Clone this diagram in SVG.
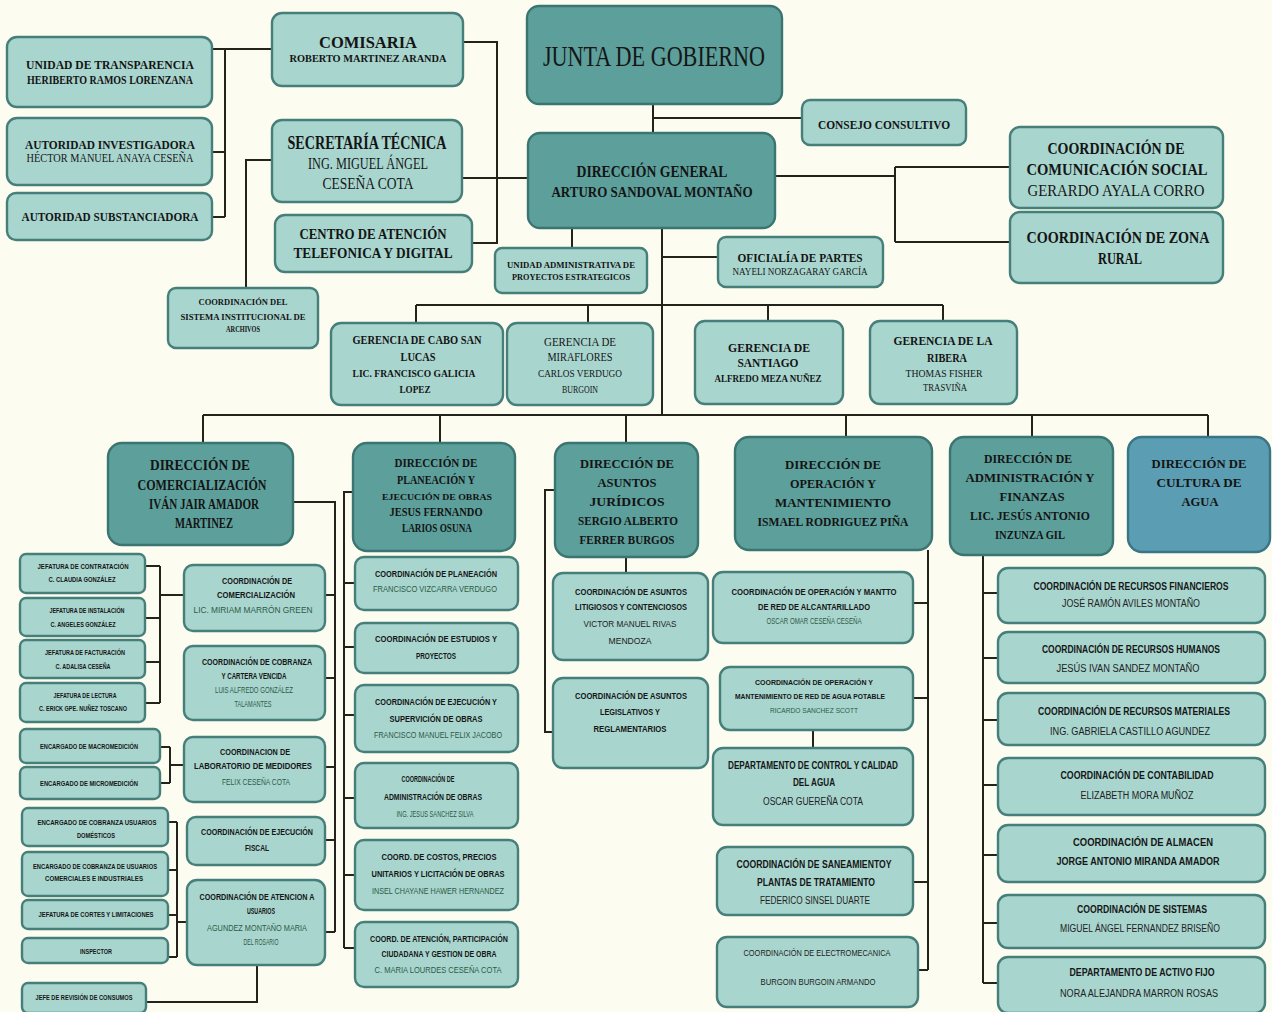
<svg xmlns="http://www.w3.org/2000/svg" width="1272" height="1012" viewBox="0 0 1272 1012">
<style>
.bl{fill:#a8d5ce;stroke:#467f79;stroke-width:2.4}
.bd{fill:#5c9f9b;stroke:#3a7571;stroke-width:2.4}
.bc{fill:#5b9db2;stroke:#3a7584;stroke-width:2.4}
.cn{stroke:#23231b;stroke-width:2;fill:none}
.sb{font-family:"Liberation Serif","Times New Roman",serif;font-weight:700;fill:#141414;text-anchor:middle}
.sr{font-family:"Liberation Serif","Times New Roman",serif;font-weight:400;fill:#161616;text-anchor:middle}
.ab{font-family:"Liberation Sans",Arial,sans-serif;font-weight:700;fill:#161616;text-anchor:middle}
.ag{font-family:"Liberation Sans",Arial,sans-serif;font-weight:400;fill:#2e5a45;text-anchor:middle}
.ak{font-family:"Liberation Sans",Arial,sans-serif;font-weight:400;fill:#222;text-anchor:middle}
</style>
<rect x="0" y="0" width="1272" height="1012" fill="#fdfcf1"/>

<g id="connectors">
<path class="cn" d="M653 104V133M653 118H802"/>
<path class="cn" d="M775 176H895M895 167V242M895 167H1010M895 242H1010"/>
<path class="cn" d="M462 178H528M463 42H497V243H472"/>
<path class="cn" d="M212 49H272M225 49V217M212 152H225M212 217H225"/>
<path class="cn" d="M272 160H246V288"/>
<path class="cn" d="M572 228V248M662 228V415M662 257H718"/>
<path class="cn" d="M416 305H943M416 305V323M588 305V323M768 305V321M943 305V321"/>
<path class="cn" d="M203 415H1208M203 415V443M440 415V443M626 415V443M846 415V437M1032 415V437M1208 415V437"/>
<path class="cn" d="M293 502H335V932M325 595H335M325 678H335M325 767H335M325 840H335M325 932H335"/>
<path class="cn" d="M145 566H160M145 618H160M145 662H160M145 703H160M160 566V703M160 595H184"/>
<path class="cn" d="M160 747H170M160 783H170M170 747V783M170 765H184"/>
<path class="cn" d="M168 822H177M168 870H177M168 915H177M168 957H177M177 822V957M177 922H187"/>
<path class="cn" d="M257 965V1002H146"/>
<path class="cn" d="M353 492H344V948M344 583H355M344 647H355M344 715H355M344 798H355M344 875H355M344 948H355"/>
<path class="cn" d="M555 490H545V732H553M626 557V573"/>
<path class="cn" d="M928 550V970M913 603H928M913 698H928M913 882H928M918 970H928M813 730V748"/>
<path class="cn" d="M983 555V983M983 593H998M983 658H998M983 720H998M983 785H998M983 855H998M983 923H998M983 983H998"/>
</g>

<g id="junta"><rect class="bd" x="527" y="6" width="255" height="98" rx="12" fill="#58a19c"/>
<text class="sr" x="654" y="66" font-size="30" textLength="222" lengthAdjust="spacingAndGlyphs">JUNTA DE GOBIERNO</text></g>

<g id="consejo"><rect class="bl" x="802" y="100" width="164" height="45" rx="8"/>
<text class="sb" x="884" y="129" font-size="13" textLength="132" lengthAdjust="spacingAndGlyphs">CONSEJO CONSULTIVO</text></g>

<g id="direccion-general"><rect class="bd" x="528" y="133" width="247" height="95" rx="12"/>
<text class="sb" x="652" y="177" font-size="16" textLength="151" lengthAdjust="spacingAndGlyphs">DIRECCIÓN GENERAL</text>
<text class="sb" x="652" y="197" font-size="15" textLength="201" lengthAdjust="spacingAndGlyphs">ARTURO SANDOVAL MONTAÑO</text></g>

<g id="comisaria"><rect class="bl" x="272" y="13" width="191" height="73" rx="10"/>
<text class="sb" x="368" y="48" font-size="16" textLength="98" lengthAdjust="spacingAndGlyphs">COMISARIA</text>
<text class="sb" x="368" y="62" font-size="11" textLength="157" lengthAdjust="spacingAndGlyphs">ROBERTO MARTINEZ ARANDA</text></g>

<g id="transparencia"><rect class="bl" x="7" y="37" width="205" height="70" rx="10"/>
<text class="sb" x="110" y="69" font-size="13" textLength="168" lengthAdjust="spacingAndGlyphs">UNIDAD DE TRANSPARENCIA</text>
<text class="sb" x="110" y="84" font-size="11.5" textLength="166" lengthAdjust="spacingAndGlyphs">HERIBERTO RAMOS LORENZANA</text></g>

<g id="investigadora"><rect class="bl" x="7" y="118" width="205" height="67" rx="10"/>
<text class="sb" x="110" y="149" font-size="13" textLength="170" lengthAdjust="spacingAndGlyphs">AUTORIDAD INVESTIGADORA</text>
<text class="sr" x="110" y="162" font-size="12" textLength="167" lengthAdjust="spacingAndGlyphs">HÉCTOR MANUEL ANAYA CESEÑA</text></g>

<g id="substanciadora"><rect class="bl" x="7" y="193" width="205" height="47" rx="9"/>
<text class="sb" x="110" y="221" font-size="13" textLength="177" lengthAdjust="spacingAndGlyphs">AUTORIDAD SUBSTANCIADORA</text></g>

<g id="secretaria"><rect class="bl" x="272" y="120" width="190" height="82" rx="10"/>
<text class="sb" x="367" y="149" font-size="18" textLength="159" lengthAdjust="spacingAndGlyphs">SECRETARÍA TÉCNICA</text>
<text class="sr" x="368" y="169" font-size="17" textLength="120" lengthAdjust="spacingAndGlyphs">ING. MIGUEL ÁNGEL</text>
<text class="sr" x="368" y="189" font-size="17" textLength="91" lengthAdjust="spacingAndGlyphs">CESEÑA COTA</text></g>

<g id="centro-atencion"><rect class="bl" x="275" y="215" width="197" height="57" rx="10"/>
<text class="sb" x="373" y="239" font-size="15" textLength="147" lengthAdjust="spacingAndGlyphs">CENTRO DE ATENCIÓN</text>
<text class="sb" x="373" y="258" font-size="15" textLength="159" lengthAdjust="spacingAndGlyphs">TELEFONICA Y DIGITAL</text></g>

<g id="archivos"><rect class="bl" x="168" y="288" width="150" height="60" rx="8"/>
<text class="sb" x="243" y="305" font-size="8" textLength="89" lengthAdjust="spacingAndGlyphs">COORDINACIÓN DEL</text>
<text class="sb" x="243" y="320" font-size="8" textLength="125" lengthAdjust="spacingAndGlyphs">SISTEMA INSTITUCIONAL DE</text>
<text class="sb" x="243" y="332" font-size="8" textLength="34" lengthAdjust="spacingAndGlyphs">ARCHIVOS</text></g>

<g id="unidad-administrativa"><rect class="bl" x="495" y="248" width="152" height="45" rx="7"/>
<text class="sb" x="571" y="268" font-size="8.5" textLength="128" lengthAdjust="spacingAndGlyphs">UNIDAD ADMINISTRATIVA DE</text>
<text class="sb" x="571" y="280" font-size="8.5" textLength="118" lengthAdjust="spacingAndGlyphs">PROYECTOS ESTRATEGICOS</text></g>

<g id="oficialia"><rect class="bl" x="718" y="237" width="165" height="50" rx="8"/>
<text class="sb" x="800" y="262" font-size="12.5" textLength="125" lengthAdjust="spacingAndGlyphs">OFICIALÍA DE PARTES</text>
<text class="sr" x="800" y="275" font-size="10.5" textLength="135" lengthAdjust="spacingAndGlyphs">NAYELI NORZAGARAY GARCÍA</text></g>

<g id="comunicacion-social"><rect class="bl" x="1010" y="127" width="213" height="81" rx="10"/>
<text class="sb" x="1116" y="154" font-size="16" textLength="137" lengthAdjust="spacingAndGlyphs">COORDINACIÓN DE</text>
<text class="sb" x="1117" y="175" font-size="16" textLength="181" lengthAdjust="spacingAndGlyphs">COMUNICACIÓN SOCIAL</text>
<text class="sr" x="1116" y="196" font-size="16" textLength="177" lengthAdjust="spacingAndGlyphs">GERARDO AYALA CORRO</text></g>

<g id="zona-rural"><rect class="bl" x="1010" y="212" width="213" height="71" rx="10"/>
<text class="sb" x="1118" y="243" font-size="16" textLength="183" lengthAdjust="spacingAndGlyphs">COORDINACIÓN DE ZONA</text>
<text class="sb" x="1120" y="264" font-size="16" textLength="44" lengthAdjust="spacingAndGlyphs">RURAL</text></g>

<g id="gerencia-cabo"><rect class="bl" x="331" y="323" width="172" height="82" rx="10"/>
<text class="sb" x="417" y="344" font-size="12" textLength="129" lengthAdjust="spacingAndGlyphs">GERENCIA DE CABO SAN</text>
<text class="sb" x="418" y="361" font-size="12" textLength="35" lengthAdjust="spacingAndGlyphs">LUCAS</text>
<text class="sb" x="414" y="377" font-size="11" textLength="123" lengthAdjust="spacingAndGlyphs">LIC. FRANCISCO GALICIA</text>
<text class="sb" x="415" y="393" font-size="11" textLength="31" lengthAdjust="spacingAndGlyphs">LOPEZ</text></g>

<g id="gerencia-miraflores"><rect class="bl" x="507" y="323" width="146" height="82" rx="10"/>
<text class="sr" x="580" y="346" font-size="12" textLength="72" lengthAdjust="spacingAndGlyphs">GERENCIA DE</text>
<text class="sr" x="580" y="361" font-size="12" textLength="65" lengthAdjust="spacingAndGlyphs">MIRAFLORES</text>
<text class="sr" x="580" y="377" font-size="10.5" textLength="84" lengthAdjust="spacingAndGlyphs">CARLOS VERDUGO</text>
<text class="sr" x="580" y="393" font-size="10.5" textLength="36" lengthAdjust="spacingAndGlyphs">BURGOIN</text></g>

<g id="gerencia-santiago"><rect class="bl" x="695" y="321" width="148" height="83" rx="10"/>
<text class="sb" x="769" y="352" font-size="12.5" textLength="82" lengthAdjust="spacingAndGlyphs">GERENCIA DE</text>
<text class="sb" x="768" y="367" font-size="12.5" textLength="61" lengthAdjust="spacingAndGlyphs">SANTIAGO</text>
<text class="sb" x="768" y="382" font-size="10" textLength="107" lengthAdjust="spacingAndGlyphs">ALFREDO MEZA NUÑEZ</text></g>

<g id="gerencia-ribera"><rect class="bl" x="870" y="321" width="147" height="83" rx="10"/>
<text class="sb" x="943" y="345" font-size="12.5" textLength="99" lengthAdjust="spacingAndGlyphs">GERENCIA DE LA</text>
<text class="sb" x="947" y="362" font-size="12.5" textLength="40" lengthAdjust="spacingAndGlyphs">RIBERA</text>
<text class="sr" x="944" y="377" font-size="10" textLength="77" lengthAdjust="spacingAndGlyphs">THOMAS FISHER</text>
<text class="sr" x="945" y="391" font-size="10" textLength="44" lengthAdjust="spacingAndGlyphs">TRASVIÑA</text></g>

<g id="dir-comercializacion"><rect class="bd" x="108" y="443" width="185" height="102" rx="14"/>
<text class="sb" x="200" y="470" font-size="14" textLength="100" lengthAdjust="spacingAndGlyphs">DIRECCIÓN DE</text>
<text class="sb" x="202" y="490" font-size="14" textLength="129" lengthAdjust="spacingAndGlyphs">COMERCIALIZACIÓN</text>
<text class="sb" x="204" y="509" font-size="14" textLength="110" lengthAdjust="spacingAndGlyphs">IVÁN JAIR AMADOR</text>
<text class="sb" x="204" y="528" font-size="14" textLength="58" lengthAdjust="spacingAndGlyphs">MARTINEZ</text></g>

<g id="dir-planeacion"><rect class="bd" x="353" y="443" width="162" height="108" rx="14"/>
<text class="sb" x="436" y="467" font-size="12" textLength="83" lengthAdjust="spacingAndGlyphs">DIRECCIÓN DE</text>
<text class="sb" x="436" y="484" font-size="12" textLength="78" lengthAdjust="spacingAndGlyphs">PLANEACIÓN Y</text>
<text class="sb" x="437" y="500" font-size="9" textLength="110" lengthAdjust="spacingAndGlyphs">EJECUCIÓN DE OBRAS</text>
<text class="sb" x="436" y="516" font-size="12" textLength="93" lengthAdjust="spacingAndGlyphs">JESUS FERNANDO</text>
<text class="sb" x="437" y="532" font-size="12" textLength="70" lengthAdjust="spacingAndGlyphs">LARIOS OSUNA</text></g>

<g id="dir-juridicos"><rect class="bd" x="555" y="443" width="143" height="114" rx="14"/>
<text class="sb" x="627" y="468" font-size="13" textLength="94" lengthAdjust="spacingAndGlyphs">DIRECCIÓN DE</text>
<text class="sb" x="627" y="487" font-size="13" textLength="59" lengthAdjust="spacingAndGlyphs">ASUNTOS</text>
<text class="sb" x="627" y="506" font-size="13" textLength="75" lengthAdjust="spacingAndGlyphs">JURÍDICOS</text>
<text class="sb" x="628" y="525" font-size="13" textLength="100" lengthAdjust="spacingAndGlyphs">SERGIO ALBERTO</text>
<text class="sb" x="627" y="544" font-size="13" textLength="95" lengthAdjust="spacingAndGlyphs">FERRER BURGOS</text></g>

<g id="dir-operacion"><rect class="bd" x="735" y="437" width="197" height="113" rx="14"/>
<text class="sb" x="833" y="469" font-size="13" textLength="96" lengthAdjust="spacingAndGlyphs">DIRECCIÓN DE</text>
<text class="sb" x="833" y="488" font-size="13" textLength="86" lengthAdjust="spacingAndGlyphs">OPERACIÓN Y</text>
<text class="sb" x="833" y="507" font-size="13" textLength="116" lengthAdjust="spacingAndGlyphs">MANTENIMIENTO</text>
<text class="sb" x="833" y="526" font-size="13" textLength="151" lengthAdjust="spacingAndGlyphs">ISMAEL RODRIGUEZ PIÑA</text></g>

<g id="dir-administracion"><rect class="bd" x="950" y="437" width="163" height="118" rx="14"/>
<text class="sb" x="1028" y="463" font-size="13" textLength="88" lengthAdjust="spacingAndGlyphs">DIRECCIÓN DE</text>
<text class="sb" x="1030" y="482" font-size="13" textLength="129" lengthAdjust="spacingAndGlyphs">ADMINISTRACIÓN Y</text>
<text class="sb" x="1032" y="501" font-size="13" textLength="65" lengthAdjust="spacingAndGlyphs">FINANZAS</text>
<text class="sb" x="1030" y="520" font-size="13" textLength="120" lengthAdjust="spacingAndGlyphs">LIC. JESÚS ANTONIO</text>
<text class="sb" x="1030" y="539" font-size="13" textLength="70" lengthAdjust="spacingAndGlyphs">INZUNZA GIL</text></g>

<g id="dir-cultura"><rect class="bc" x="1128" y="437" width="142" height="115" rx="14"/>
<text class="sb" x="1199" y="468" font-size="13" textLength="95" lengthAdjust="spacingAndGlyphs">DIRECCIÓN DE</text>
<text class="sb" x="1199" y="487" font-size="13" textLength="85" lengthAdjust="spacingAndGlyphs">CULTURA DE</text>
<text class="sb" x="1200" y="506" font-size="13" textLength="37" lengthAdjust="spacingAndGlyphs">AGUA</text></g>

<g id="jef-contratacion"><rect class="bl" x="20" y="554" width="125" height="39" rx="6"/>
<text class="ab" x="83" y="569" font-size="7.5" textLength="91" lengthAdjust="spacingAndGlyphs">JEFATURA DE CONTRATACIÓN</text>
<text class="ab" x="82" y="582" font-size="7.5" textLength="67" lengthAdjust="spacingAndGlyphs">C. CLAUDIA GONZÁLEZ</text></g>
<g id="jef-instalacion"><rect class="bl" x="20" y="598" width="125" height="38" rx="6"/>
<text class="ab" x="87" y="613" font-size="7.5" textLength="75" lengthAdjust="spacingAndGlyphs">JEFATURA DE INSTALACIÓN</text>
<text class="ab" x="83" y="627" font-size="7.5" textLength="65" lengthAdjust="spacingAndGlyphs">C. ANGELES GONZÁLEZ</text></g>
<g id="jef-facturacion"><rect class="bl" x="20" y="640" width="125" height="38" rx="6"/>
<text class="ab" x="85" y="655" font-size="7.5" textLength="80" lengthAdjust="spacingAndGlyphs">JEFATURA DE FACTURACIÓN</text>
<text class="ab" x="83" y="669" font-size="7.5" textLength="55" lengthAdjust="spacingAndGlyphs">C. ADALISA CESEÑA</text></g>
<g id="jef-lectura"><rect class="bl" x="20" y="683" width="125" height="39" rx="6"/>
<text class="ab" x="85" y="698" font-size="7.5" textLength="63" lengthAdjust="spacingAndGlyphs">JEFATURA DE LECTURA</text>
<text class="ab" x="83" y="711" font-size="7.5" textLength="88" lengthAdjust="spacingAndGlyphs">C. ERICK GPE.  NUÑEZ TOSCANO</text></g>
<g id="enc-macromedicion"><rect class="bl" x="20" y="729" width="140" height="34" rx="6"/>
<text class="ab" x="89" y="749" font-size="7.5" textLength="98" lengthAdjust="spacingAndGlyphs">ENCARGADO DE MACROMEDICIÓN</text></g>
<g id="enc-micromedicion"><rect class="bl" x="20" y="767" width="140" height="32" rx="6"/>
<text class="ab" x="89" y="786" font-size="7.5" textLength="98" lengthAdjust="spacingAndGlyphs">ENCARGADO DE MICROMEDICIÓN</text></g>
<g id="enc-cobranza-domesticos"><rect class="bl" x="22" y="808" width="146" height="38" rx="6"/>
<text class="ab" x="97" y="825" font-size="7.5" textLength="119" lengthAdjust="spacingAndGlyphs">ENCARGADO DE COBRANZA USUARIOS</text>
<text class="ab" x="96" y="838" font-size="7.5" textLength="38" lengthAdjust="spacingAndGlyphs">DOMÉSTICOS</text></g>
<g id="enc-cobranza-comerciales"><rect class="bl" x="22" y="852" width="146" height="44" rx="6"/>
<text class="ab" x="95" y="869" font-size="7.5" textLength="124" lengthAdjust="spacingAndGlyphs">ENCARGADO DE COBRANZA  DE USUARIOS</text>
<text class="ab" x="94" y="881" font-size="7.5" textLength="98" lengthAdjust="spacingAndGlyphs">COMERCIALES E INDUSTRIALES</text></g>
<g id="jef-cortes"><rect class="bl" x="22" y="900" width="146" height="29" rx="6"/>
<text class="ab" x="96" y="917" font-size="7.5" textLength="115" lengthAdjust="spacingAndGlyphs">JEFATURA DE CORTES Y LIMITACIONES</text></g>
<g id="inspector"><rect class="bl" x="22" y="938" width="146" height="25" rx="6"/>
<text class="ab" x="96" y="954" font-size="7.5" textLength="32" lengthAdjust="spacingAndGlyphs">INSPECTOR</text></g>
<g id="jefe-revision"><rect class="bl" x="22" y="983" width="124" height="30" rx="6"/>
<text class="ab" x="84" y="1000" font-size="7.5" textLength="97" lengthAdjust="spacingAndGlyphs">JEFE DE REVISIÓN DE CONSUMOS</text></g>

<g id="coord-comercializacion"><rect class="bl" x="184" y="565" width="141" height="66" rx="9"/>
<text class="ab" x="257" y="584" font-size="8.5" textLength="70" lengthAdjust="spacingAndGlyphs">COORDINACIÓN DE</text>
<text class="ab" x="256" y="598" font-size="8.5" textLength="78" lengthAdjust="spacingAndGlyphs">COMERCIALIZACIÓN</text>
<text class="ag" x="253" y="613" font-size="8.5" textLength="119" lengthAdjust="spacingAndGlyphs">LIC. MIRIAM MARRÓN GREEN</text></g>
<g id="coord-cobranza"><rect class="bl" x="184" y="646" width="141" height="74" rx="9"/>
<text class="ab" x="257" y="665" font-size="8.5" textLength="110" lengthAdjust="spacingAndGlyphs">COORDINACIÓN DE COBRANZA</text>
<text class="ab" x="254" y="679" font-size="8.5" textLength="65" lengthAdjust="spacingAndGlyphs">Y CARTERA VENCIDA</text>
<text class="ag" x="254" y="693" font-size="8.5" textLength="78" lengthAdjust="spacingAndGlyphs">LUIS ALFREDO GONZÁLEZ</text>
<text class="ag" x="253" y="707" font-size="8.5" textLength="37" lengthAdjust="spacingAndGlyphs">TALAMANTES</text></g>
<g id="coord-laboratorio"><rect class="bl" x="184" y="737" width="141" height="65" rx="9"/>
<text class="ab" x="255" y="755" font-size="8.5" textLength="70" lengthAdjust="spacingAndGlyphs">COORDINACION DE</text>
<text class="ab" x="253" y="769" font-size="8.5" textLength="118" lengthAdjust="spacingAndGlyphs">LABORATORIO DE MEDIDORES</text>
<text class="ag" x="256" y="785" font-size="8.5" textLength="68" lengthAdjust="spacingAndGlyphs">FELIX CESEÑA COTA</text></g>
<g id="coord-ejecucion-fiscal"><rect class="bl" x="187" y="817" width="138" height="48" rx="9"/>
<text class="ab" x="257" y="835" font-size="8.5" textLength="112" lengthAdjust="spacingAndGlyphs">COORDINACIÓN DE EJECUCIÓN</text>
<text class="ab" x="257" y="851" font-size="8.5" textLength="24" lengthAdjust="spacingAndGlyphs">FISCAL</text></g>
<g id="coord-atencion-usuarios"><rect class="bl" x="187" y="880" width="138" height="85" rx="10"/>
<text class="ab" x="257" y="900" font-size="8.5" textLength="115" lengthAdjust="spacingAndGlyphs">COORDINACIÓN DE ATENCION A</text>
<text class="ab" x="261" y="914" font-size="8.5" textLength="28" lengthAdjust="spacingAndGlyphs">USUARIOS</text>
<text class="ag" x="257" y="931" font-size="8.5" textLength="100" lengthAdjust="spacingAndGlyphs">AGUNDEZ MONTAÑO MARIA</text>
<text class="ag" x="261" y="945" font-size="8.5" textLength="35" lengthAdjust="spacingAndGlyphs">DEL ROSARIO</text></g>

<g id="coord-planeacion"><rect class="bl" x="355" y="557" width="163" height="53" rx="9"/>
<text class="ab" x="436" y="577" font-size="9" textLength="122" lengthAdjust="spacingAndGlyphs">COORDINACIÓN DE PLANEACIÓN</text>
<text class="ag" x="435" y="592" font-size="9" textLength="124" lengthAdjust="spacingAndGlyphs">FRANCISCO VIZCARRA VERDUGO</text></g>
<g id="coord-estudios"><rect class="bl" x="355" y="623" width="163" height="50" rx="9"/>
<text class="ab" x="436" y="642" font-size="9" textLength="122" lengthAdjust="spacingAndGlyphs">COORDINACIÓN DE ESTUDIOS Y</text>
<text class="ab" x="436" y="659" font-size="9" textLength="40" lengthAdjust="spacingAndGlyphs">PROYECTOS</text></g>
<g id="coord-ejecucion-obras"><rect class="bl" x="355" y="685" width="163" height="67" rx="9"/>
<text class="ab" x="436" y="705" font-size="9" textLength="122" lengthAdjust="spacingAndGlyphs">COORDINACIÓN DE EJECUCIÓN Y</text>
<text class="ab" x="436" y="722" font-size="9" textLength="93" lengthAdjust="spacingAndGlyphs">SUPERVICIÓN DE OBRAS</text>
<text class="ag" x="438" y="738" font-size="9" textLength="128" lengthAdjust="spacingAndGlyphs">FRANCISCO MANUEL FELIX JACOBO</text></g>
<g id="coord-administracion-obras"><rect class="bl" x="355" y="763" width="163" height="65" rx="9"/>
<text class="ab" x="428" y="782" font-size="9" textLength="53" lengthAdjust="spacingAndGlyphs">COORDINACIÓN DE</text>
<text class="ab" x="433" y="800" font-size="9" textLength="98" lengthAdjust="spacingAndGlyphs">ADMINISTRACIÓN DE OBRAS</text>
<text class="ag" x="435" y="817" font-size="9" textLength="77" lengthAdjust="spacingAndGlyphs">ING. JESUS SANCHEZ SILVA</text></g>
<g id="coord-costos"><rect class="bl" x="355" y="840" width="163" height="70" rx="9"/>
<text class="ab" x="439" y="860" font-size="9" textLength="115" lengthAdjust="spacingAndGlyphs">COORD.  DE COSTOS, PRECIOS</text>
<text class="ab" x="438" y="877" font-size="9" textLength="133" lengthAdjust="spacingAndGlyphs">UNITARIOS Y LICITACIÓN DE OBRAS</text>
<text class="ag" x="438" y="894" font-size="9" textLength="132" lengthAdjust="spacingAndGlyphs">INSEL CHAYANE HAWER HERNANDEZ</text></g>
<g id="coord-atencion-participacion"><rect class="bl" x="355" y="922" width="163" height="65" rx="9"/>
<text class="ab" x="439" y="942" font-size="9" textLength="138" lengthAdjust="spacingAndGlyphs">COORD. DE ATENCIÓN, PARTICIPACIÓN</text>
<text class="ab" x="439" y="957" font-size="9" textLength="115" lengthAdjust="spacingAndGlyphs">CIUDADANA Y GESTION DE OBRA</text>
<text class="ag" x="438" y="973" font-size="9" textLength="127" lengthAdjust="spacingAndGlyphs">C. MARIA LOURDES CESEÑA COTA</text></g>

<g id="coord-litigiosos"><rect class="bl" x="553" y="573" width="155" height="87" rx="10"/>
<text class="ab" x="631" y="595" font-size="9" textLength="112" lengthAdjust="spacingAndGlyphs">COORDINACIÓN DE ASUNTOS</text>
<text class="ab" x="631" y="610" font-size="9" textLength="112" lengthAdjust="spacingAndGlyphs">LITIGIOSOS Y CONTENCIOSOS</text>
<text class="ak" x="630" y="627" font-size="9" textLength="93" lengthAdjust="spacingAndGlyphs">VICTOR MANUEL RIVAS</text>
<text class="ak" x="630" y="644" font-size="9" textLength="43" lengthAdjust="spacingAndGlyphs">MENDOZA</text></g>
<g id="coord-legislativos"><rect class="bl" x="553" y="678" width="155" height="90" rx="10"/>
<text class="ab" x="631" y="699" font-size="9" textLength="112" lengthAdjust="spacingAndGlyphs">COORDINACIÓN DE ASUNTOS</text>
<text class="ab" x="630" y="715" font-size="9" textLength="60" lengthAdjust="spacingAndGlyphs">LEGISLATIVOS Y</text>
<text class="ab" x="630" y="732" font-size="9" textLength="73" lengthAdjust="spacingAndGlyphs">REGLAMENTARIOS</text></g>

<g id="coord-alcantarillado"><rect class="bl" x="713" y="572" width="200" height="71" rx="10"/>
<text class="ab" x="814" y="595" font-size="8.5" textLength="165" lengthAdjust="spacingAndGlyphs">COORDINACIÓN DE OPERACIÓN Y MANTTO</text>
<text class="ab" x="814" y="610" font-size="8.5" textLength="112" lengthAdjust="spacingAndGlyphs">DE RED DE ALCANTARILLADO</text>
<text class="ag" x="814" y="624" font-size="8.5" textLength="95" lengthAdjust="spacingAndGlyphs">OSCAR OMAR CESEÑA CESEÑA</text></g>
<g id="coord-agua-potable"><rect class="bl" x="720" y="667" width="193" height="63" rx="10"/>
<text class="ab" x="814" y="685" font-size="8" textLength="118" lengthAdjust="spacingAndGlyphs">COORDINACIÓN DE OPERACIÓN Y</text>
<text class="ab" x="810" y="699" font-size="8" textLength="150" lengthAdjust="spacingAndGlyphs">MANTENIMIENTO DE RED DE AGUA POTABLE</text>
<text class="ag" x="814" y="713" font-size="8" textLength="88" lengthAdjust="spacingAndGlyphs">RICARDO SANCHEZ SCOTT</text></g>
<g id="depto-control-calidad"><rect class="bl" x="713" y="748" width="200" height="77" rx="10"/>
<text class="ab" x="813" y="769" font-size="10" textLength="170" lengthAdjust="spacingAndGlyphs">DEPARTAMENTO DE CONTROL Y CALIDAD</text>
<text class="ab" x="814" y="786" font-size="10" textLength="42" lengthAdjust="spacingAndGlyphs">DEL AGUA</text>
<text class="ak" x="813" y="805" font-size="10" textLength="100" lengthAdjust="spacingAndGlyphs">OSCAR GUEREÑA COTA</text></g>
<g id="coord-saneamiento"><rect class="bl" x="717" y="847" width="196" height="68" rx="10"/>
<text class="ab" x="814" y="868" font-size="10" textLength="155" lengthAdjust="spacingAndGlyphs">COORDINACIÓN DE SANEAMIENTOY</text>
<text class="ab" x="816" y="886" font-size="10" textLength="118" lengthAdjust="spacingAndGlyphs">PLANTAS DE TRATAMIENTO</text>
<text class="ak" x="815" y="904" font-size="10" textLength="110" lengthAdjust="spacingAndGlyphs">FEDERICO SINSEL DUARTE</text></g>
<g id="coord-electromecanica"><rect class="bl" x="717" y="937" width="201" height="70" rx="10"/>
<text class="ak" x="817" y="956" font-size="9" textLength="147" lengthAdjust="spacingAndGlyphs">COORDINACIÓN DE ELECTROMECANICA</text>
<text class="ak" x="818" y="985" font-size="9" textLength="115" lengthAdjust="spacingAndGlyphs">BURGOIN BURGOIN ARMANDO</text></g>

<g id="coord-financieros"><rect class="bl" x="998" y="568" width="267" height="55" rx="10"/>
<text class="ab" x="1131" y="590" font-size="10" textLength="195" lengthAdjust="spacingAndGlyphs">COORDINACIÓN DE RECURSOS FINANCIEROS</text>
<text class="ak" x="1131" y="607" font-size="10" textLength="138" lengthAdjust="spacingAndGlyphs">JOSÉ RAMÓN AVILES MONTAÑO</text></g>
<g id="coord-humanos"><rect class="bl" x="998" y="632" width="267" height="51" rx="10"/>
<text class="ab" x="1131" y="653" font-size="10" textLength="178" lengthAdjust="spacingAndGlyphs">COORDINACIÓN DE RECURSOS HUMANOS</text>
<text class="ak" x="1128" y="672" font-size="10" textLength="143" lengthAdjust="spacingAndGlyphs">JESÚS IVAN SANDEZ MONTAÑO</text></g>
<g id="coord-materiales"><rect class="bl" x="998" y="693" width="267" height="52" rx="10"/>
<text class="ab" x="1134" y="715" font-size="10" textLength="192" lengthAdjust="spacingAndGlyphs">COORDINACIÓN DE RECURSOS MATERIALES</text>
<text class="ak" x="1130" y="735" font-size="10" textLength="160" lengthAdjust="spacingAndGlyphs">ING. GABRIELA CASTILLO AGUNDEZ</text></g>
<g id="coord-contabilidad"><rect class="bl" x="998" y="758" width="267" height="57" rx="10"/>
<text class="ab" x="1137" y="779" font-size="10" textLength="153" lengthAdjust="spacingAndGlyphs">COORDINACIÓN DE CONTABILIDAD</text>
<text class="ak" x="1137" y="799" font-size="10" textLength="113" lengthAdjust="spacingAndGlyphs">ELIZABETH MORA MUÑOZ</text></g>
<g id="coord-almacen"><rect class="bl" x="998" y="825" width="267" height="57" rx="10"/>
<text class="ab" x="1143" y="846" font-size="10" textLength="140" lengthAdjust="spacingAndGlyphs">COORDINACIÓN DE ALMACEN</text>
<text class="ab" x="1138" y="865" font-size="10" textLength="163" lengthAdjust="spacingAndGlyphs">JORGE ANTONIO MIRANDA AMADOR</text></g>
<g id="coord-sistemas"><rect class="bl" x="998" y="895" width="267" height="53" rx="10"/>
<text class="ab" x="1142" y="913" font-size="10" textLength="130" lengthAdjust="spacingAndGlyphs">COORDINACIÓN DE SISTEMAS</text>
<text class="ak" x="1140" y="932" font-size="10" textLength="160" lengthAdjust="spacingAndGlyphs">MIGUEL ÁNGEL FERNANDEZ BRISEÑO</text></g>
<g id="depto-activo-fijo"><rect class="bl" x="998" y="957" width="267" height="56" rx="10"/>
<text class="ab" x="1142" y="976" font-size="10" textLength="145" lengthAdjust="spacingAndGlyphs">DEPARTAMENTO DE ACTIVO FIJO</text>
<text class="ak" x="1139" y="997" font-size="10" textLength="158" lengthAdjust="spacingAndGlyphs">NORA ALEJANDRA MARRON ROSAS</text></g>
</svg>
